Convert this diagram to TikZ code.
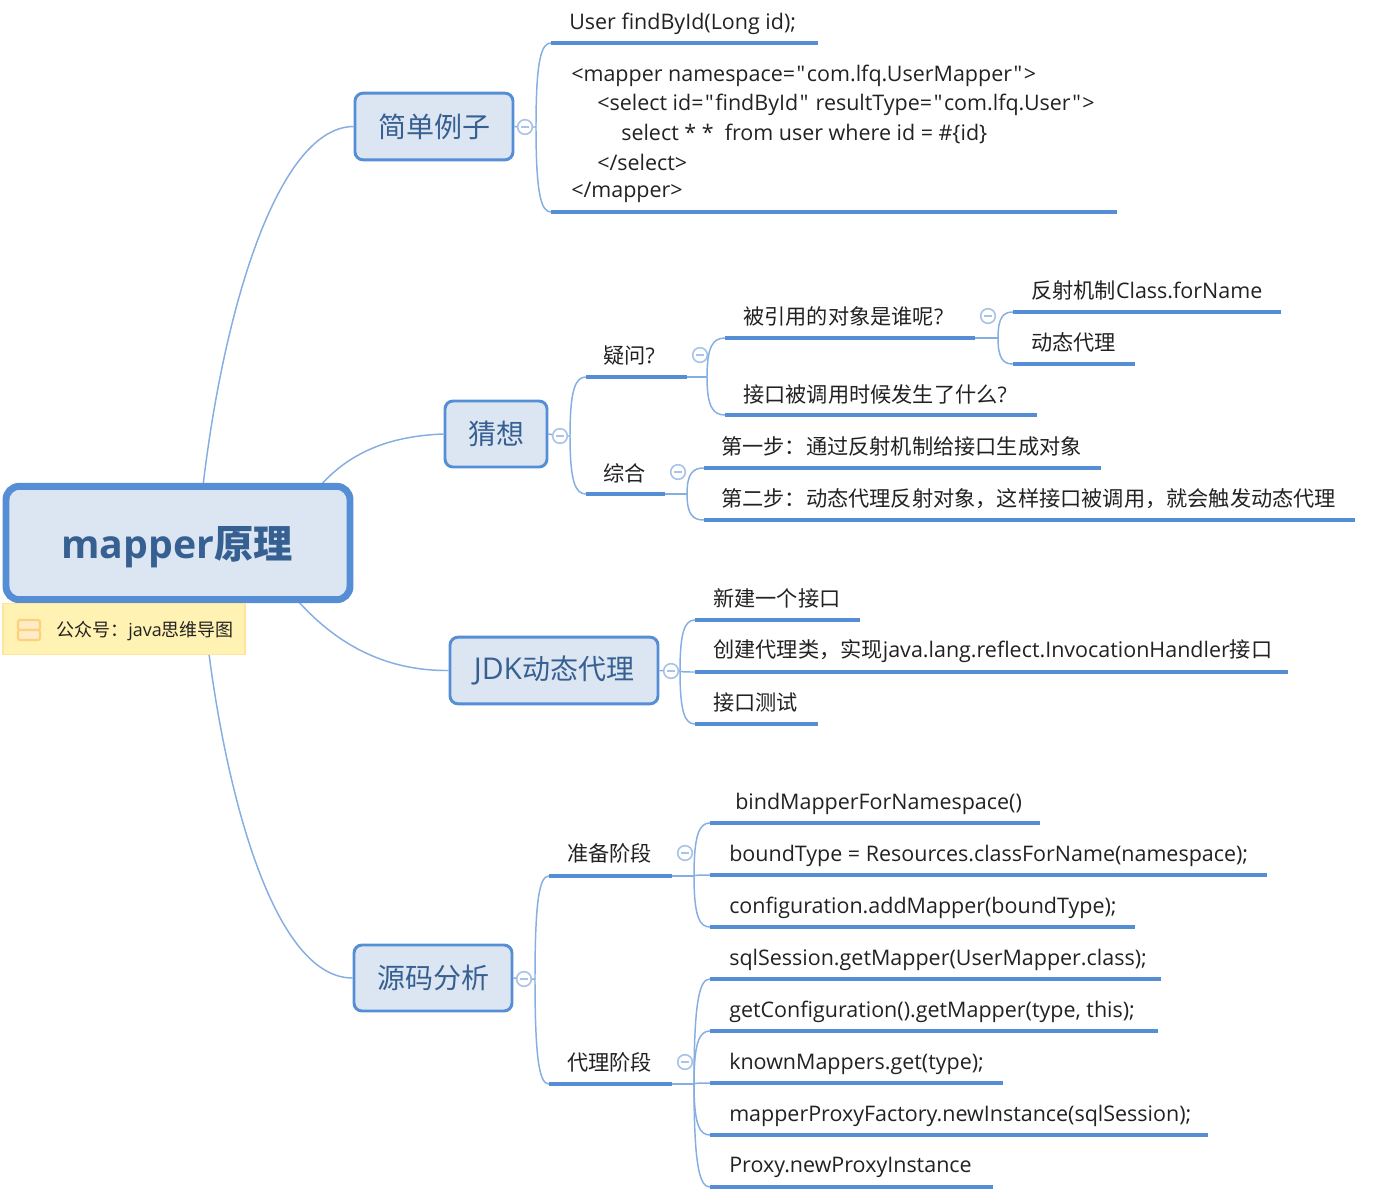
\documentclass[tikz,border=0pt]{standalone}
\usepackage{fontspec}
\usetikzlibrary{calc}
\setmainfont{Open Sans}[Ligatures=TeXOff]
\newfontfamily\cjk{Noto Sans CJK SC}
\newcommand{\zh}[1]{{\cjk\fontsize{15.9}{18}\selectfont #1}}
\newcommand{\zhsame}[1]{{\cjk #1}}
\newcommand{\qm}{\kern1.2pt"\kern1.2pt}
\newcommand{\fwcolon}{\char"FF1A\relax}
\newcommand{\fwcomma}{\char"FF0C\relax}
\definecolor{barblue}{HTML}{558ED5}
\definecolor{linkblue}{HTML}{85AEE2}
\definecolor{nodefill}{HTML}{DCE6F2}
\definecolor{titleblue}{HTML}{376092}
\definecolor{inktext}{HTML}{222222}
\definecolor{notefill}{HTML}{FFF2B3}
\definecolor{noteline}{HTML}{FFE59A}
\definecolor{iconline}{HTML}{FBD27A}
\definecolor{iconfill}{HTML}{FFEBC8}
\definecolor{bubble}{HTML}{A9C3E8}
\tikzset{
  rootbox/.style={draw=barblue,line width=5.2pt,fill=nodefill,rounded corners=10pt,inner sep=0pt},
  topicbox/.style={draw=barblue,line width=2.2pt,fill=nodefill,rounded corners=6pt,inner sep=0pt,text=titleblue,font=\fontsize{21}{25}\selectfont},
  conn/.style={draw=linkblue,line width=1.1pt},
  under/.style={draw=barblue,line width=3pt},
  leaftext/.style={anchor=west,inner sep=0pt,text=inktext,font=\fontsize{16.1}{18}\selectfont},
  collapser/.style={circle,draw=bubble,line width=1.2pt,fill=white,minimum size=11pt,inner sep=0pt},
  collapsemark/.style={draw=bubble,line width=1.1pt}
}
\newcommand{\branch}[2]{\draw[conn] (#1) .. controls ($(#1)!0.8!(#1|-#2)$) and ($(#1|-#2)!0.35!(#2)$) .. (#2);}
\newcommand{\leaf}[7]{%
  \coordinate (#1L) at (#2,#4);
  \coordinate (#1R) at (#3,#4);
  \draw[under] (#1L) -- (#1R);
  \node[leaftext] (#1) at (#5,#6+1.5) {#7};
}
\newcommand{\minus}[3]{%
  \node[collapser] (#1) at (#2,#3) {};
  \draw[collapsemark] ($(#1)+(-4,0)$) -- ($(#1)+(4,0)$);
}
\begin{document}
\begin{tikzpicture}[x=0.75pt,y=-0.75pt]
\useasboundingbox (0,0) rectangle (1376,1196);
\fill[white] (0,0) rectangle (1376,1196);

% central and main topics
\coordinate (rootA) at (203,486);
\coordinate (rootB) at (320,486);
\coordinate (rootC) at (298,601);
\coordinate (noteD) at (209,654);
\node[topicbox,minimum width=118.5pt,minimum height=50pt] (t1) at (434,126.5) {\zhsame{简单例子}};
\node[topicbox,minimum width=76.5pt,minimum height=49.5pt] (t2) at (496,434) {\zhsame{猜想}};
\node[topicbox,minimum width=156pt,minimum height=50pt] (t3) at (554,670.5) {{\fontsize{22.5}{25}\selectfont JDK}\zhsame{动态代理}};
\node[topicbox,minimum width=118.5pt,minimum height=49.5pt] (t4) at (433,978) {\zhsame{源码分析}};
\draw[conn] (rootA) .. controls (225,300) and (280,127) .. (t1.west);
\draw[conn] (rootB) .. controls (350,452) and (390,436) .. (t2.west);
\draw[conn] (rootC) .. controls (340,648) and (390,671) .. (t3.west);
\draw[conn] (noteD) .. controls (228,800) and (275,978) .. (t4.west);
\node[rootbox,minimum width=258pt,minimum height=85pt] (root) at (178,543) {};
\node[inner sep=0pt,text=titleblue,font=\fontsize{29.4}{32}\selectfont\bfseries] (roottext) at (177,547) {mapper\zhsame{\bfseries 原理}};

% note
\node[draw=noteline,line width=0.8pt,fill=notefill,minimum width=181.5pt,minimum height=38.5pt,inner sep=0pt] (note) at (124,629) {};
\draw[draw=iconline,line width=1.6pt,fill=iconfill,rounded corners=1.5pt] (18,620) rectangle (40,630);
\draw[draw=iconline,line width=1.6pt,fill=iconfill,rounded corners=1.5pt] (18,630) rectangle (40,640);
\node[anchor=west,inner sep=0pt,text=inktext,font=\fontsize{13.5}{16}\selectfont] (notetext) at (56,631) {\zhsame{公众号\fwcolon}java\zhsame{思维导图}};

% topic 1
\minus{c1}{525}{127}
\coordinate (j1) at (536,127);
\draw[conn] (t1.east) -- (c1) -- (j1);
\leaf{a1}{551}{818}{43}{569}{22}{User findById(Long id);}
\leaf{a2}{551}{1117}{212}{571}{74}{<mapper namespace=\qm com.lfq.UserMapper\qm>}
\node[leaftext] (a2b) at (597,104.5) {<select id=\qm findById\qm\ resultType=\qm com.lfq.User\qm>};
\node[leaftext] (a2c) at (621,133.5) {select * *\ \ from user where id = \#\{id\}};
\node[leaftext] (a2d) at (597,162.5) {</select>};
\node[leaftext] (a2e) at (571,192.5) {</mapper>};
\branch{j1}{a1L}
\branch{j1}{a2L}

% topic 2
\minus{c2}{560}{436}
\coordinate (j2) at (570,436);
\draw[conn] (t2.east) -- (c2) -- (j2);
\leaf{b1}{586}{687}{377}{603}{354}{\zh{疑问}?}
\leaf{b2}{586}{665}{494}{603}{472}{\zh{综合}}
\branch{j2}{b1L}
\branch{j2}{b2L}
\minus{c3}{700}{355}
\coordinate (j3) at (707,377);
\draw[conn] (b1R) -- (j3);
\leaf{b3}{725}{975}{338}{743}{315}{\zh{被引用的对象是谁呢}?}
\leaf{b4}{725}{1037}{415}{743}{393}{\zh{接口被调用时候发生了什么}?}
\branch{j3}{b3L}
\branch{j3}{b4L}
\minus{c4}{988}{316}
\coordinate (j4) at (998,338);
\draw[conn] (b3R) -- (j4);
\leaf{b5}{1013}{1281}{312}{1031}{289}{\zh{反射机制}Class.forName}
\leaf{b6}{1013}{1135}{364}{1031}{341}{\zh{动态代理}}
\branch{j4}{b5L}
\branch{j4}{b6L}
\minus{c5}{678}{472}
\coordinate (j5) at (687,494);
\draw[conn] (b2R) -- (j5);
\leaf{b7}{704}{1101}{468}{721}{445}{\zh{第一步\fwcolon 通过反射机制给接口生成对象}}
\leaf{b8}{704}{1355}{520}{721}{497}{\zh{第二步\fwcolon 动态代理反射对象\fwcomma 这样接口被调用\fwcomma 就会触发动态代理}}
\branch{j5}{b7L}
\branch{j5}{b8L}

% topic 3
\minus{c6}{671}{671}
\coordinate (j6) at (680,671);
\draw[conn] (t3.east) -- (c6) -- (j6);
\leaf{d1}{695}{860}{620}{713}{597}{\zh{新建一个接口}}
\leaf{d2}{695}{1288}{672}{713}{650}{\zh{创建代理类\fwcomma 实现}java.lang.reflect.InvocationHandler\zh{接口}}
\leaf{d3}{695}{818}{724}{713}{701}{\zh{接口测试}}
\branch{j6}{d1L}
\branch{j6}{d2L}
\branch{j6}{d3L}

% topic 4
\minus{c7}{524}{979}
\coordinate (j7) at (535,979);
\draw[conn] (t4.east) -- (c7) -- (j7);
\leaf{e1}{549}{672}{876}{567}{852}{\zh{准备阶段}}
\leaf{e2}{549}{672}{1084}{567}{1061}{\zh{代理阶段}}
\branch{j7}{e1L}
\branch{j7}{e2L}
\minus{c8}{685}{853}
\coordinate (j8) at (694,876);
\draw[conn] (e1R) -- (j8);
\leaf{f1}{710}{1040}{823}{735}{802}{bindMapperForNamespace()}
\leaf{f2}{710}{1267}{875}{729}{854}{boundType = Resources.classForName(namespace);}
\leaf{f3}{710}{1135}{927}{729}{906}{configuration.addMapper(boundType);}
\branch{j8}{f1L}
\branch{j8}{f2L}
\branch{j8}{f3L}
\minus{c9}{685}{1062}
\coordinate (j9) at (694,1084);
\draw[conn] (e2R) -- (j9);
\leaf{g1}{710}{1161}{979}{729}{958}{sqlSession.getMapper(UserMapper.class);}
\leaf{g2}{710}{1158}{1031}{729}{1010}{getConfiguration().getMapper(type, this);}
\leaf{g3}{710}{1003}{1083}{729}{1062}{knownMappers.get(type);}
\leaf{g4}{710}{1208}{1135}{729}{1114}{mapperProxyFactory.newInstance(sqlSession);}
\leaf{g5}{710}{993}{1187}{729}{1166}{Proxy.newProxyInstance}
\branch{j9}{g1L}
\branch{j9}{g2L}
\branch{j9}{g3L}
\branch{j9}{g4L}
\branch{j9}{g5L}
\end{tikzpicture}
\end{document}
